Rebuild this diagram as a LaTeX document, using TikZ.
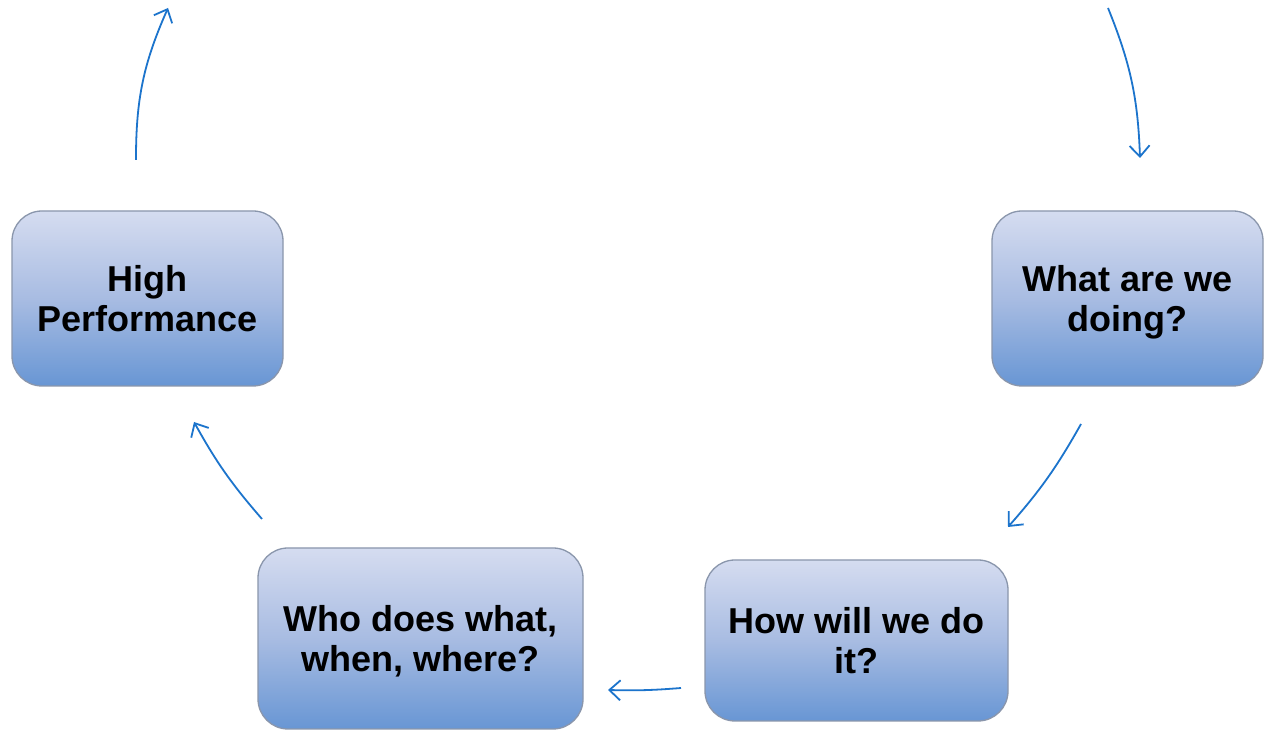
\documentclass[tikz,border=0pt]{standalone}
\usepackage{fontspec}
\setmainfont{Liberation Sans}
\usetikzlibrary{arrows.meta}
\definecolor{boxtop}{RGB}{213,220,240}
\definecolor{boxmid}{RGB}{168,188,226}
\definecolor{boxbot}{RGB}{104,150,212}
\definecolor{boxline}{RGB}{138,150,172}
\definecolor{arrowc}{RGB}{28,116,204}
\tikzset{
  stepbox/.style={draw=boxline, line width=1.3pt, rounded corners=30pt,
    top color=boxtop, bottom color=boxbot, middle color=boxmid,
    align=center, inner sep=0pt,
    font=\fontsize{36}{40}\selectfont\bfseries},
  flow/.style={draw=arrowc, line width=1.8pt,
    -{Straight Barb[length=11pt,width=20pt,line width=1.8pt]}}
}
\begin{document}
\begin{tikzpicture}[x=1pt,y=1pt]
\useasboundingbox[fill=white] (0,0) rectangle (1268,730);
\node[stepbox, minimum width=271pt, minimum height=175pt] (hp) at (147.5,431.5) {High\\Performance};
\node[stepbox, minimum width=271pt, minimum height=175pt, text depth=0pt] (what) at (1127.5,431.5) {What are we\\doing?};
\node[stepbox, minimum width=303pt, minimum height=161pt] (how) at (856.5,89.5) {How will we do\\it?};
\node[stepbox, minimum width=325pt, minimum height=181pt, text depth=0pt] (who) at (420.5,91.5) {Who does what,\\when, where?};
\coordinate (a1s) at (136,570);
\coordinate (a1e) at (168,722);
\coordinate (a2s) at (1108,722);
\coordinate (a2e) at (1140,572);
\coordinate (a3s) at (1081,306);
\coordinate (a3e) at (1008,203);
\coordinate (a4s) at (681,42);
\coordinate (a4e) at (608,40);
\coordinate (a5s) at (262,211);
\coordinate (a5e) at (194,308);
\draw[flow] (a1s) to[bend left=12] (a1e);
\draw[flow] (a2s) to[bend left=10] (a2e);
\draw[flow] (a3s) to[bend left=6] (a3e);
\draw[flow] (a4s) to[bend left=3] (a4e);
\draw[flow] (a5s) to[bend left=6] (a5e);
\end{tikzpicture}
\end{document}
